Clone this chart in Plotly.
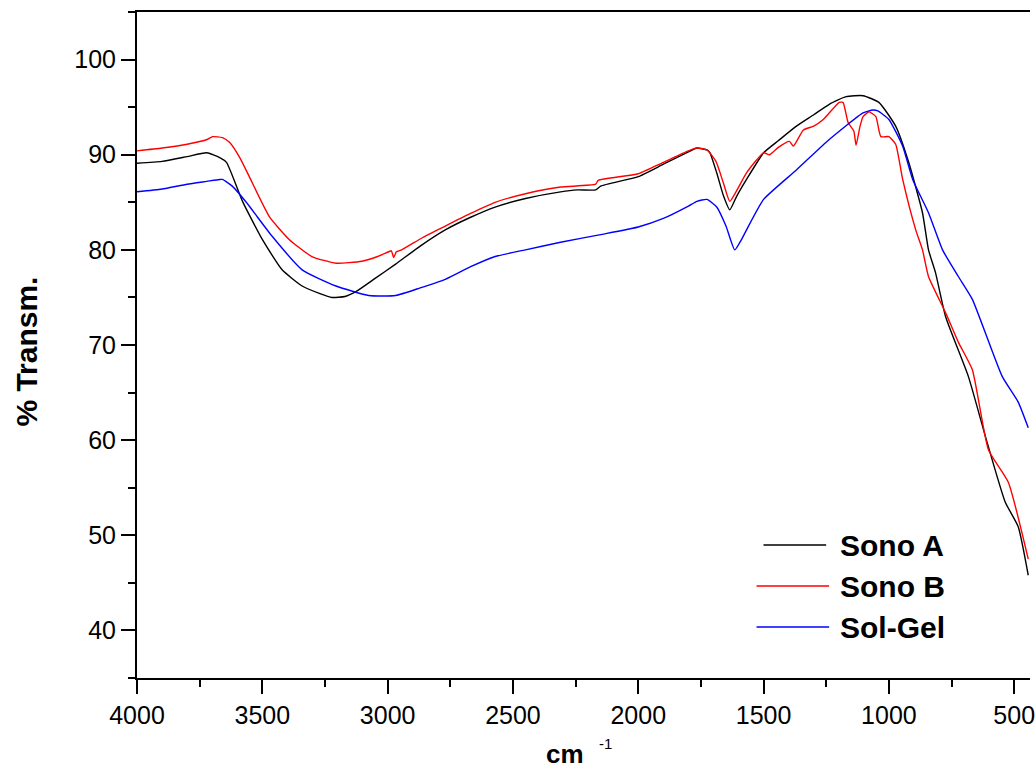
import plotly.graph_objects as go

# ---- data ----
sono_a_x = [4000, 3900, 3800, 3722, 3670, 3643, 3579, 3500, 3421, 3341, 3270, 3222, 3170, 3127, 3050, 2968,
            2870, 2770, 2671, 2571, 2450, 2310, 2242, 2170, 2150, 2000, 1900, 1800, 1766, 1726, 1714, 1687,
            1659, 1635, 1608, 1568, 1500, 1440, 1369, 1300, 1238, 1171, 1103, 1040, 973, 921, 866, 842, 814,
            774, 683, 615, 536, 484, 444]
sono_a_y = [89.1, 89.3, 89.8, 90.2, 89.7, 89.2, 85.1, 81.1, 77.9, 76.2, 75.4, 75.0, 75.1, 75.6, 77.0, 78.5,
            80.4, 82.1, 83.4, 84.5, 85.4, 86.1, 86.3, 86.3, 86.7, 87.7, 89.0, 90.3, 90.7, 90.5, 90.2, 88.1,
            85.6, 84.2, 85.6, 87.4, 90.2, 91.5, 93.0, 94.2, 95.3, 96.1, 96.2, 95.5, 93.0, 89.2, 83.9, 80.0, 77.6,
            73.0, 66.7, 60.4, 53.5, 50.9, 45.8]

sono_b_x = [4000, 3900, 3800, 3720, 3698, 3659, 3631, 3590, 3552, 3472, 3393, 3302, 3206, 3103, 3040, 2996,
            2985, 2976, 2965, 2944, 2860, 2770, 2671, 2571, 2450, 2310, 2170, 2160, 2000, 1900, 1800, 1766,
            1726, 1690, 1660, 1635, 1608, 1568, 1500, 1476, 1440, 1397, 1381, 1341, 1300, 1262, 1198, 1183,
            1163, 1140, 1131, 1115, 1103, 1079, 1052, 1032, 1000, 973, 945, 893, 866, 842, 774, 723, 667, 603,
            524, 444]
sono_b_y = [90.4, 90.7, 91.1, 91.6, 91.9, 91.8, 91.3, 89.7, 87.7, 83.5, 81.1, 79.3, 78.6, 78.8, 79.3, 79.8,
            79.9, 79.2, 79.8, 80.0, 81.3, 82.5, 83.8, 85.0, 85.9, 86.6, 86.9, 87.3, 88.0, 89.2, 90.4, 90.7,
            90.5, 89.3, 87.0, 85.1, 86.2, 88.1, 90.2, 90.0, 90.8, 91.4, 90.9, 92.6, 93.0, 93.7, 95.5, 95.5,
            93.4, 92.5, 91.0, 93.0, 94.0, 94.5, 94.0, 91.9, 91.9, 91.1, 87.4, 82.1, 80.0, 77.2, 73.4, 70.3, 67.4,
            59.0, 55.6, 47.5]

sol_gel_x = [4000, 3900, 3800, 3722, 3670, 3659, 3620, 3564, 3460, 3341, 3206, 3075, 2968, 2870, 2770, 2671,
             2571, 2450, 2310, 2150, 2000, 1900, 1800, 1766, 1726, 1687, 1650, 1615, 1590, 1568, 1500, 1369,
             1238, 1103, 1064, 1044, 1000, 945, 905, 842, 786, 723, 667, 548, 484, 444]
sol_gel_y = [86.1, 86.4, 86.9, 87.2, 87.4, 87.4, 86.7, 85.0, 81.4, 77.9, 76.2, 75.2, 75.2, 76.0, 76.9, 78.2,
             79.3, 80.0, 80.8, 81.6, 82.4, 83.3, 84.6, 85.1, 85.3, 84.5, 82.5, 80.0, 81.0, 82.1, 85.3, 88.4,
             91.6, 94.4, 94.7, 94.6, 93.7, 90.9, 87.4, 83.9, 80.0, 77.2, 74.8, 66.7, 64.0, 61.3]

series_names = ["Sono A", "Sono B", "Sol-Gel"]
series_colors = ["#000000", "#ff0000", "#0000ff"]

x_ticks = [4000, 3500, 3000, 2500, 2000, 1500, 1000, 500]
y_ticks = [40, 50, 60, 70, 80, 90, 100]

# ---- layout geometry ----
W, H = 1035, 767
L, R, T, B = 137, 0, 12, 89
PW, PH = W - L - R, H - T - B


def px(xp):
    return (xp - L) / PW


def py(yp):
    return (H - B - yp) / PH


FONT = "Liberation Sans, Arial, sans-serif"

fig = go.Figure()
for xs, ys, name, col in zip([sono_a_x, sono_b_x, sol_gel_x], [sono_a_y, sono_b_y, sol_gel_y],
                             series_names, series_colors):
    fig.add_trace(go.Scatter(x=xs, y=ys, mode="lines", name=name,
                             line=dict(color=col, width=1.4, shape="spline", smoothing=0.5),
                             showlegend=False))

shapes = []
annotations = []
# manual legend
leg_rows = [(767, 830, 545), (760, 833, 586), (760, 833, 627)]
for (x0, x1, yc), name, col in zip(leg_rows, series_names, series_colors):
    shapes.append(dict(type="line", xref="paper", yref="paper", x0=px(x0), x1=px(x1), y0=py(yc), y1=py(yc),
                       line=dict(color=col, width=1.6)))
    annotations.append(dict(text="<b>%s</b>" % name, xref="paper", yref="paper", x=px(842), y=py(yc),
                            xanchor="left", yanchor="middle", showarrow=False,
                            font=dict(family=FONT, size=30, color="black")))

# axis titles
annotations.append(dict(text="<b>% Transm.</b>", xref="paper", yref="paper", x=px(25), y=py(352),
                        textangle=-90, xanchor="center", yanchor="middle", showarrow=False,
                        font=dict(family=FONT, size=30, color="black")))
annotations.append(dict(text="<b>cm</b>", xref="paper", yref="paper", x=px(567), y=py(754), xanchor="center",
                        yanchor="middle", showarrow=False, font=dict(family=FONT, size=26, color="black")))
annotations.append(dict(text="-1", xref="paper", yref="paper", x=px(608), y=py(743), xanchor="center",
                        yanchor="middle", showarrow=False, font=dict(family=FONT, size=15, color="black")))

fig.update_layout(
    width=W, height=H,
    margin=dict(l=L, r=R, t=T, b=B, pad=0),
    paper_bgcolor="white", plot_bgcolor="white",
    shapes=shapes, annotations=annotations,
    font=dict(family=FONT, size=25, color="black"),
    xaxis=dict(range=[4000, 437], tickvals=x_ticks, ticktext=[str(v) for v in x_ticks],
               ticks="outside", ticklen=14, tickwidth=1.6, tickcolor="black",
               showline=True, linecolor="black", linewidth=2, mirror=True,
               showgrid=False, zeroline=False, ticklabeloverflow="allow",
               tickfont=dict(family=FONT, size=25, color="black"),
               minor=dict(dtick=250, tick0=0, ticks="outside", ticklen=7, tickwidth=1.6, tickcolor="black",
                          showgrid=False)),
    yaxis=dict(range=[35, 105], tickvals=y_ticks, ticktext=[str(v) for v in y_ticks],
               ticks="outside", ticklen=14, tickwidth=1.6, tickcolor="black",
               showline=True, linecolor="black", linewidth=2, mirror=False,
               showgrid=False, zeroline=False,
               tickfont=dict(family=FONT, size=25, color="black"),
               minor=dict(dtick=5, tick0=0, ticks="outside", ticklen=7, tickwidth=1.6, tickcolor="black",
                          showgrid=False)),
)

fig.write_html("out.html", config={"displayModeBar": False},
               post_script="document.body.style.margin='0px';document.body.style.overflow='hidden';")
